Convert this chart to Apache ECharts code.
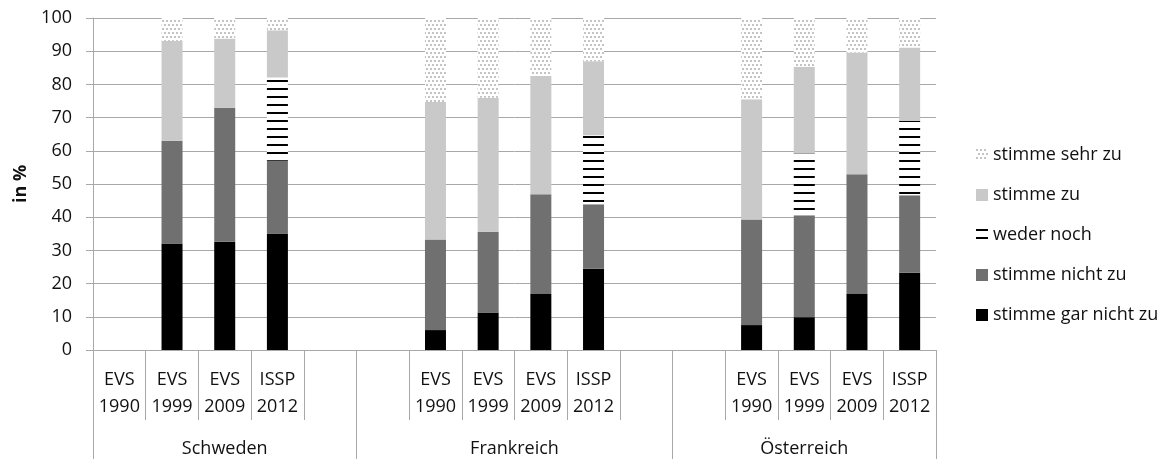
<!DOCTYPE html>
<html>
<head>
<meta charset="utf-8">
<script src="https://cdn.jsdelivr.net/npm/echarts@6/dist/echarts.min.js"></script>
<style>
html,body{margin:0;padding:0;background:#fff;}
#chart{width:1174px;height:459px;}
</style>
</head>
<body>
<div id="chart"></div>
<script>
// ---- data ----
const slotLabels = ['EVS\n1990','EVS\n1999','EVS\n2009','ISSP\n2012','',
                    '','EVS\n1990','EVS\n1999','EVS\n2009','ISSP\n2012','',
                    '','EVS\n1990','EVS\n1999','EVS\n2009','ISSP\n2012'];
const groupNames = ['Schweden','Frankreich','Österreich'];
const groupSizes = [5, 6, 5];
const yTicks = [0,10,20,30,40,50,60,70,80,90,100];

const seriesNames = ['stimme gar nicht zu','stimme nicht zu','weder noch','stimme zu','stimme sehr zu'];
const garNichtZu = [null,32.1,32.6,35.1,null, null,6.0,11.3,16.9,24.5,null, null,7.5,9.9,16.9,23.3];
const nichtZu    = [null,30.9,40.4,21.9,null, null,27.3,24.3,30.0,19.4,null, null,31.8,30.7,36.0,23.3];
const wederNoch  = [null,0,0,25.1,null,       null,0,0,0,20.8,null,          null,0,18.6,0,22.4];
const zu         = [null,30.1,20.8,14.2,null, null,41.4,40.4,35.6,22.3,null, null,36.2,26.1,36.7,22.1];
const sehrZu     = [null,6.9,6.2,3.7,null,    null,25.3,24.0,17.5,13.0,null, null,24.5,14.7,10.4,8.9];
const seriesValues = [garNichtZu, nichtZu, wederNoch, zu, sehrZu];

// ---- patterns ----
function stripePattern(){
  const c = document.createElement('canvas'); c.width = 8; c.height = 8;
  const g = c.getContext('2d');
  g.fillStyle = '#ffffff'; g.fillRect(0,0,8,8);
  g.fillStyle = '#000000'; g.fillRect(0,0,8,2);
  return c;
}
function dotPattern(){
  const c = document.createElement('canvas'); c.width = 4; c.height = 8;
  const g = c.getContext('2d');
  g.fillStyle = '#ffffff'; g.fillRect(0,0,4,8);
  g.fillStyle = '#c4c4c4'; g.fillRect(0,0,2,2); g.fillRect(2,4,2,2);
  return c;
}
const fills = [
  '#000000',
  '#707070',
  {image: stripePattern(), repeat: 'repeat'},
  '#c9c9c9',
  {image: dotPattern(), repeat: 'repeat'}
];

// group boundaries / centers (in slot units)
const groupBounds = [0];
groupSizes.forEach(s => groupBounds.push(groupBounds[groupBounds.length-1] + s));
const groupCenters = groupNames.map((n,i) => (groupBounds[i] + groupBounds[i+1]) / 2);
const totalSlots = groupBounds[groupBounds.length-1];

const FONT = 'Open Sans';
const TXT = '#111111';
const GRID = '#a8a8a8';

const chart = echarts.init(document.getElementById('chart'), null, {renderer:'canvas'});
chart.setOption({
  animation: false,
  textStyle: {fontFamily: FONT},
  grid: {left: 93, right: 238, top: 18, bottom: 109, containLabel: false},
  legend: {
    orient: 'vertical',
    left: 971,
    top: 141,
    itemWidth: 12,
    itemHeight: 12,
    itemGap: 22,
    itemTextGap: 5,
    icon: 'rect',
    data: seriesNames.slice().reverse(),
    textStyle: {fontFamily: FONT, fontSize: 18, color: TXT}
  },
  xAxis: [
    {
      type: 'category',
      data: slotLabels.map((l,i) => 's' + i),
      position: 'bottom',
      axisLine: {show: true, lineStyle: {color: GRID, width: 1}},
      axisTick: {show: true, interval: 0, alignWithLabel: false, length: 70, lineStyle: {color: GRID, width: 1}},
      axisLabel: {
        interval: 0, margin: 16, fontSize: 18, lineHeight: 27, color: TXT, fontFamily: FONT,
        formatter: (v, i) => slotLabels[i]
      },
      splitLine: {show: false}
    },
    {
      type: 'value',
      min: 0, max: totalSlots,
      position: 'bottom',
      axisLine: {show: false},
      axisTick: {show: true, customValues: groupBounds, length: 109, lineStyle: {color: GRID, width: 1}},
      axisLabel: {
        show: true, customValues: groupCenters, margin: 90, fontSize: 18, color: TXT, fontFamily: FONT,
        formatter: v => { const k = groupCenters.indexOf(v); return k >= 0 ? groupNames[k] : ''; }
      },
      splitLine: {show: false}
    }
  ],
  yAxis: {
    type: 'value',
    min: yTicks[0], max: yTicks[yTicks.length-1], interval: 10,
    name: 'in %',
    nameLocation: 'middle',
    nameGap: 60,
    nameRotate: 90,
    nameTextStyle: {fontFamily: FONT, fontSize: 18, fontWeight: 'bold', color: TXT},
    axisLine: {show: true, lineStyle: {color: GRID, width: 1}},
    axisTick: {show: true, length: 7, lineStyle: {color: GRID, width: 1}},
    axisLabel: {fontSize: 18, color: TXT, margin: 21, fontFamily: FONT},
    splitLine: {show: true, lineStyle: {color: GRID, width: 1}}
  },
  series: seriesNames.map((name, k) => ({
    name: name,
    type: 'bar',
    stack: 'all',
    xAxisIndex: 0,
    barWidth: 21,
    data: seriesValues[k],
    itemStyle: {color: fills[k]},
    emphasis: {disabled: true}
  }))
});
</script>
</body>
</html>
